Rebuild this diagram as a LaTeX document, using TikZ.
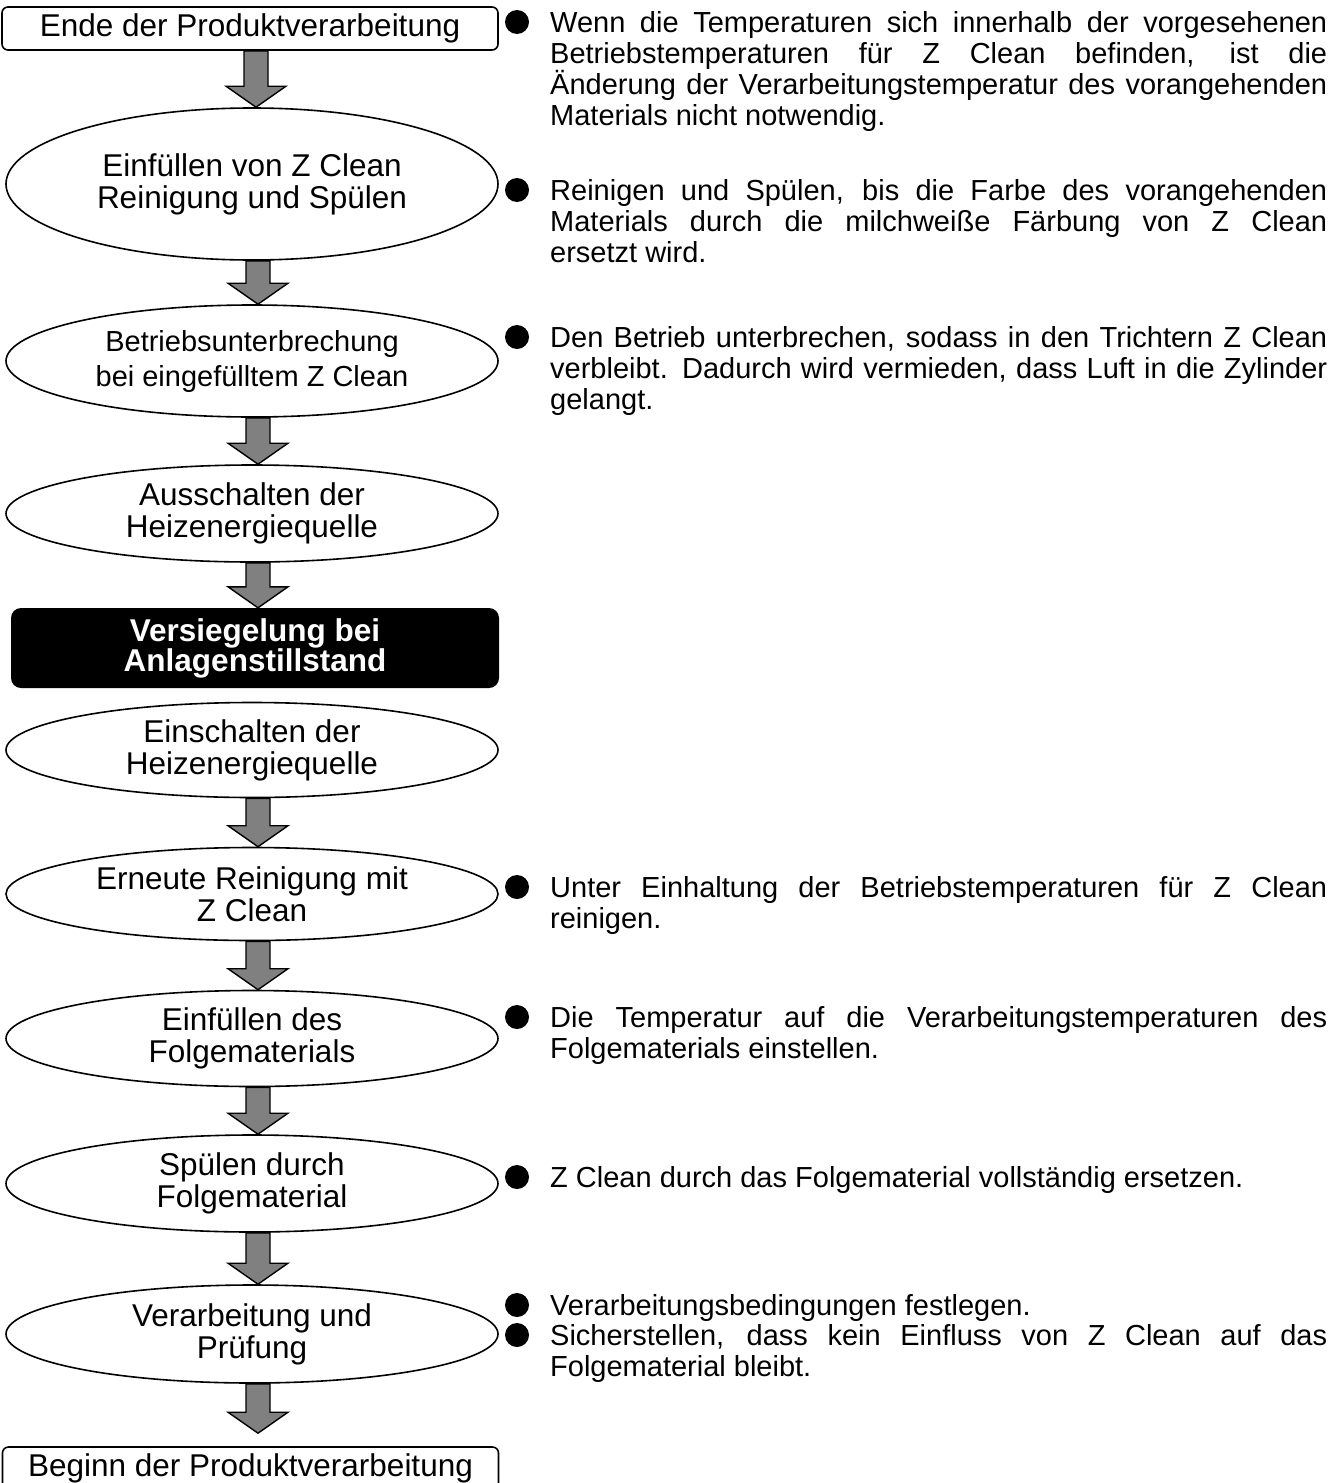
\documentclass[tikz,border=0pt]{standalone}
\usepackage{fontspec}
\setmainfont{Liberation Sans}
\usetikzlibrary{shapes.geometric,calc}

\definecolor{arrowgray}{HTML}{808080}

\newcommand{\stepfont}{\fontsize{31.5}{32}\selectfont}
\newcommand{\smallstepfont}{\fontsize{29}{35}\selectfont}
\newcommand{\haltfont}{\fontsize{31.5}{30}\selectfont\bfseries}
\newcommand{\notefont}{\fontsize{29}{31}\selectfont\tolerance=9999\hbadness=10000\hyphenpenalty=10000}

% block arrow from the bottom of one step to the top of the next
\newcommand{\flowarrow}[3][0pt]{%
  \path[blockarrow] let \p1=(#2.south), \p2=(#3.north) in
    (\x1-6pt,\y1) -- (\x1+18pt,\y1) -- (\x1+18pt,\y2+#1+21pt) -- (\x1+36pt,\y2+#1+21pt)
    -- (\x1+6pt,\y2+#1) -- (\x1-24pt,\y2+#1+21pt) -- (\x1-6pt,\y2+#1+21pt) -- cycle;}

\tikzset{
  stepbox/.style={draw, line width=1.6pt, rounded corners=6pt, minimum width=496pt, minimum height=43pt, inner sep=0pt, font=\stepfont},
  stepoval/.style={draw, ellipse, line width=1.6pt, minimum width=492pt, inner sep=0pt, align=center, font=\stepfont},
  haltbox/.style={fill=black, text=white, rounded corners=10pt, minimum width=488pt, minimum height=80pt, inner sep=0pt, align=center, font=\haltfont},
  bulletdot/.style={circle, fill=black, minimum size=24pt, inner sep=0pt},
  notetext/.style={anchor=north west, text width=777pt, align=justify, inner sep=0pt, font=\notefont},
  blockarrow/.style={draw, line width=1.4pt, fill=arrowgray, line join=miter}
}

\begin{document}
\begin{tikzpicture}[x=1pt, y=-1pt]
      \useasboundingbox (0,0) rectangle (1343,1483);

      \node[stepbox] (ende) at (250,28.5) {Ende der Produktverarbeitung};
      \node[stepoval, minimum height=152pt] (fill) at (252,184) {Einfüllen von Z Clean\\Reinigung und Spülen};
      \node[stepoval, minimum height=112pt, font=\smallstepfont] (pause) at (252,361) {Betriebsunterbrechung\\bei eingefülltem Z Clean};
      \node[stepoval, minimum height=97pt] (heatoff) at (252,513.5) {Ausschalten der\\Heizenergiequelle};
      \node[haltbox] (seal) at (255,648) {Versiegelung bei\\Anlagenstillstand};
      \node[stepoval, minimum height=95pt] (heaton) at (252,750) {Einschalten der\\Heizenergiequelle};
      \node[stepoval, minimum height=93pt] (reclean) at (252,894) {Erneute Reinigung mit\\Z Clean};
      \node[stepoval, minimum height=96pt] (refill) at (252,1038.5) {Einfüllen des\\Folgematerials};
      \node[stepoval, minimum height=97pt] (purge) at (252,1183.5) {Spülen durch\\Folgematerial};
      \node[stepoval, minimum height=98pt] (check) at (252,1334) {Verarbeitung und\\Prüfung};
      \node[stepbox] (start) at (250.5,1468.5) {Beginn der Produktverarbeitung};

      \flowarrow{ende}{fill}
      \flowarrow{fill}{pause}
      \flowarrow{pause}{heatoff}
      \flowarrow{heatoff}{seal}
      \flowarrow{heaton}{reclean}
      \flowarrow{reclean}{refill}
      \flowarrow{refill}{purge}
      \flowarrow{purge}{check}
      \flowarrow[13pt]{check}{start}

      % notes on the right
      \node[bulletdot] (d1) at (517,22) {};
      \node[notetext] (n1) at (550,10.7) {\strut Wenn die Temperaturen sich innerhalb der vorgesehenen\linebreak Betriebstemperaturen für Z Clean befinden, ist die\linebreak Änderung der Verarbeitungstemperatur des vorangehenden\linebreak Materials nicht notwendig.};
      \node[bulletdot] (d2) at (517,190) {};
      \node[notetext] (n2) at (550,178.7) {\strut Reinigen und Spülen, bis die Farbe des vorangehenden\linebreak Materials durch die milchweiße Färbung von Z Clean\linebreak ersetzt wird.};
      \node[bulletdot] (d3) at (517,337) {};
      \node[notetext] (n3) at (550,325.7) {\strut Den Betrieb unterbrechen, sodass in den Trichtern Z Clean\linebreak verbleibt. Dadurch wird vermieden, dass Luft in die Zylinder\linebreak gelangt.};
      \node[bulletdot] (d4) at (517,887) {};
      \node[notetext] (n4) at (550,875.7) {\strut Unter Einhaltung der Betriebstemperaturen für Z Clean\linebreak reinigen.};
      \node[bulletdot] (d5) at (517,1017) {};
      \node[notetext] (n5) at (550,1005.7) {\strut Die Temperatur auf die Verarbeitungstemperaturen des\linebreak Folgematerials einstellen.};
      \node[bulletdot] (d6) at (517,1177) {};
      \node[notetext] (n6) at (550,1165.7) {\strut Z Clean durch das Folgematerial vollständig ersetzen.};
      \node[bulletdot] (d7) at (517,1305) {};
      \node[notetext] (n7) at (550,1293.7) {\strut Verarbeitungsbedingungen festlegen.};
      \node[bulletdot] (d8) at (517,1335) {};
      \node[notetext] (n8) at (550,1323.7) {\strut Sicherstellen, dass kein Einfluss von Z Clean auf das\linebreak Folgematerial bleibt.};
\end{tikzpicture}
\end{document}
